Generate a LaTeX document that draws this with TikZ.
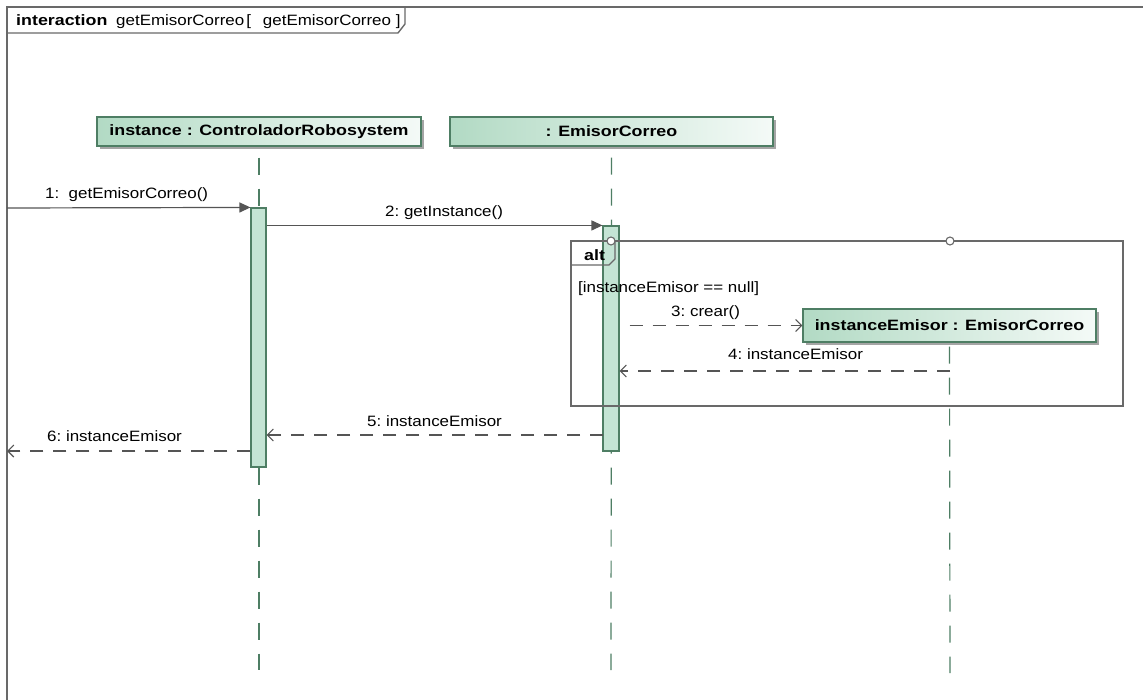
\documentclass[tikz,border=0pt]{standalone}
\usepackage{fontspec}
\usetikzlibrary{arrows.meta,shadows}
\newfontfamily\umlf[FakeStretch=1.13]{Liberation Sans}
\newfontfamily\umlb[FakeStretch=1.19]{Liberation Sans Bold}
\definecolor{lgreen}{RGB}{178,218,196}
\definecolor{rgreen}{RGB}{244,250,247}
\definecolor{dgreen}{RGB}{78,126,100}
\definecolor{actfill}{RGB}{196,228,212}
\definecolor{msgc}{RGB}{85,85,85}
\definecolor{frm}{RGB}{105,105,105}
\definecolor{shad}{RGB}{165,165,165}
\tikzset{
  lbox/.style={draw=dgreen, line width=1.2pt, left color=lgreen, right color=rgreen,
    minimum height=29pt, inner sep=0pt, font=\umlb\fontsize{15}{17}\selectfont,
    drop shadow={shadow xshift=3pt, shadow yshift=-3pt, fill=shad, opacity=1}},
  actbar/.style={draw=dgreen, line width=1.1pt, fill=actfill, inner sep=0pt, minimum width=15pt},
  lifeline/.style={draw=dgreen, line width=1.2pt, dash pattern=on 17pt off 14pt},
  syncmsg/.style={draw=msgc, line width=1.2pt, -{Triangle[length=11pt,width=10pt]}},
  retmsg/.style={draw=msgc, line width=1.2pt, dash pattern=on 13pt off 10pt,
    -{Straight Barb[length=6pt,width=12pt,line width=1.1pt]}},
  lbl/.style={anchor=base west, inner sep=0pt, font=\umlf\fontsize{15}{17}\selectfont},
  frame/.style={draw=frm, line width=1.4pt},
  handle/.style={draw=frm, line width=1.1pt, fill=white, circle, inner sep=0pt, minimum size=8pt}
}
\begin{document}
\begin{tikzpicture}[x=1pt,y=-1pt]
\useasboundingbox (0,0) rectangle (1143,700);
\fill[white] (0,0) rectangle (1143,700);
% outer interaction frame
\coordinate (ftl) at (7,7);
\coordinate (fbl) at (7,700);
\coordinate (ftr) at (1143,7);
\draw[frame] (fbl) -- (ftl) -- (ftr);
\draw[frame] (7,33) -- (398,33) -- (405,24) -- (405,7);
\node[lbl, font=\umlb\fontsize{15}{17}\selectfont] (tkw) at (16,26) {interaction};
\node[lbl] (tname) at (116,26) {getEmisorCorreo\hspace{2pt}[\hspace{12pt}getEmisorCorreo ]};

% lifeline heads
\node[lbox, minimum width=324pt] (l1) at (259,131.5) {instance : ControladorRobosystem};
\node[lbox, minimum width=323pt] (l2) at (611.5,131.5) {: EmisorCorreo};
\coordinate (l1end) at (259,670);
\coordinate (l2end) at (611,670);
\coordinate (l3end) at (950,673);

% lifelines
\draw[lifeline, dash phase=20pt] (l1.south) -- (l1end);
\draw[lifeline, dash phase=20pt] (l2.south) -- (l2end);

% activation bars
\node[actbar, minimum height=259pt] (a1) at (258.5,337.5) {};
\node[actbar, minimum width=16pt, minimum height=225pt] (a2) at (611,338.5) {};

% alt combined fragment
\draw[frame, line width=1.3pt] (571,241) rectangle (1123,406);
\draw[frame, line width=1.3pt] (571,265) -- (609,265) -- (615,259) -- (615,241);
\node[lbl, font=\umlb\fontsize{15}{17}\selectfont] (altkw) at (584,261) {alt};
\node[handle] (h1) at (611,241) {};
\node[handle] (h2) at (950,241) {};
\node[lbl] (guard) at (578,293) {[instanceEmisor == null]};

% created lifeline
\node[lbox, minimum width=293pt, minimum height=33pt] (l3) at (949.5,325.5) {instanceEmisor : EmisorCorreo};
\draw[lifeline, dash phase=27pt] (l3.south) -- (l3end);

% messages
\coordinate (src1) at (7,208);
\draw[syncmsg] (src1) -- (a1.north west);
\node[lbl] (t1) at (45,199) {1:\ \ getEmisorCorreo()};

\draw[syncmsg] (a1.east |- a2.north) -- (a2.north west);
\node[lbl] (t2) at (385,217) {2:\ getInstance()};

\draw[retmsg, dash phase=13pt] (a2.east |- l3.west) -- (l3.west);
\node[lbl] (t3) at (671,317) {3:\ crear()};

\coordinate (r4) at (950,371);
\draw[retmsg] (r4) -- (a2.east |- r4);
\node[lbl] (t4) at (728,360) {4:\ instanceEmisor};

\coordinate (r5) at (603,435);
\draw[retmsg] (r5) -- (a1.east |- r5);
\node[lbl] (t5) at (367,426) {5:\ instanceEmisor};

\coordinate (d6) at (7,451);
\draw[retmsg] (a1.west |- d6) -- (d6);
\node[lbl] (t6) at (47,441) {6:\ instanceEmisor};
\end{tikzpicture}
\end{document}
